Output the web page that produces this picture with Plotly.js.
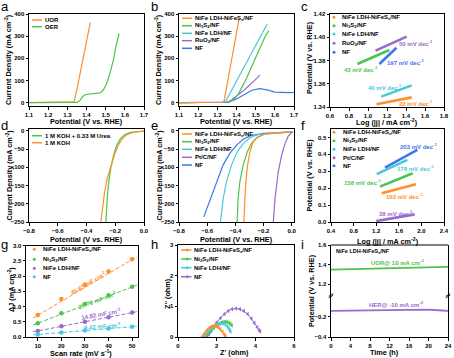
<!DOCTYPE html>
<html><head><meta charset="utf-8">
<script src="https://cdn.plot.ly/plotly-3.0.1.min.js"></script>
<style>html,body{margin:0;padding:0;background:#fff}#chart{width:454px;height:358px}</style>
</head><body><div id="chart"></div>
<script>
const ORANGE='#FF8F2A', GREEN='#4DC44D', CYAN='#47C9DD', PURPLE='#9A6BCC', BLUE='#3B78EA';
const FONT='Liberation Sans, Arial, sans-serif';

// ---------- data ----------
// (a) UOR vs OER
const aUorX=[1.10,1.20,1.30,1.325,1.335,1.35,1.37,1.39,1.41,1.42];
const aUorY=[0,0.3,1,2,4,60,145,230,318,362];
const aOerX=[1.10,1.20,1.30,1.35,1.365,1.38,1.395,1.42,1.45,1.47,1.487,1.505,1.522,1.54,1.557,1.57];
const aOerY=[0,0.2,0.5,1,8,28,37,40,41,44,56,86,131,192,267,312];
// (b) UOR LSV
const bCompX=[1.10,1.20,1.30,1.325,1.335,1.36,1.38,1.40,1.414];
const bCompY=[0,0.3,1,2,6,123,218,313,381];
const bNi3S2X=[1.10,1.20,1.30,1.35,1.37,1.39,1.41,1.43,1.45,1.47,1.49,1.51,1.53,1.55,1.569];
const bNi3S2Y=[0,0.3,1,2,6,18,40,70,105,145,185,228,268,300,325];
const bLdhX=[1.10,1.20,1.30,1.33,1.345,1.37,1.40,1.43,1.46,1.49,1.52,1.545,1.561];
const bLdhY=[0,0.3,1,2,8,48,97,145,193,242,290,330,356];
const bRuX=[1.10,1.20,1.30,1.35,1.37,1.39,1.41,1.43,1.45,1.47,1.49,1.51,1.522];
const bRuY=[0,0.3,1,3,10,22,36,50,65,80,96,113,125];
const bNfX=[1.10,1.20,1.30,1.36,1.40,1.44,1.48,1.52,1.56,1.60,1.64,1.67,1.70];
const bNfY=[0,0.2,0.5,2,17,38,56,63,58,48,45,45,46];
// (c) UOR Tafel
const cCompX=[1.09,1.46], cCompY=[1.3423,1.3483];
const cNi3S2X=[0.888,1.225], cNi3S2Y=[1.377,1.389];
const cLdhX=[1.14,1.46], cLdhY=[1.3489,1.3586];
const cRuX=[1.08,1.407], cRuY=[1.3885,1.4005];
const cNfX=[1.12,1.30], cNfY=[1.377,1.391];
// (d) HER electrolyte
const dUreaX=[-0.265,-0.262,-0.255,-0.245,-0.23,-0.21,-0.19,-0.165,-0.135,-0.10,-0.05,0];
const dUreaY=[-250,-220,-180,-140,-100,-65,-40,-22,-11,-5,-2,-0.5];
const dKohX=[-0.30,-0.29,-0.275,-0.255,-0.23,-0.205,-0.18,-0.155,-0.125,-0.09,-0.05,0];
const dKohY=[-250,-210,-170,-130,-95,-65,-40,-24,-12,-6,-3,-1];
// (e) HER LSV
const eCompX=[-0.339,-0.337,-0.332,-0.325,-0.313,-0.296,-0.273,-0.237,-0.19,-0.106,0];
const eCompY=[-250,-222,-186,-140,-94,-58,-30,-16,-9,-5.5,-3];
const eNi3S2X=[-0.387,-0.38,-0.368,-0.344,-0.315,-0.285,-0.249,-0.2,-0.106,0];
const eNi3S2Y=[-250,-186,-140,-94,-58,-35,-19,-10,-5.5,-3];
const eLdhX=[-0.505,-0.486,-0.463,-0.427,-0.387,-0.344,-0.296,-0.237,-0.13,0];
const eLdhY=[-250,-186,-140,-94,-58,-35,-19,-10,-5.5,-3];
const ePtX=[-0.13,-0.118,-0.095,-0.071,-0.047,-0.023,0,0.012];
const ePtY=[-250,-186,-113,-67,-35,-14,-5,-3];
const eNfX=[-0.624,-0.581,-0.534,-0.487,-0.439,-0.391,-0.344,-0.296,-0.201,-0.059,0];
const eNfY=[-236,-190,-140,-94,-62,-39,-23,-14,-7,-4.5,-3.5];
// (f) HER Tafel
const fCompX=[1.297,1.904], fCompY=[0.170,0.223];
const fNi3S2X=[1.267,1.846], fNi3S2Y=[0.209,0.288];
const fLdhX=[1.209,1.75], fLdhY=[0.283,0.367];
const fPtX=[1.2,1.88], fPtY=[0.005,0.045];
const fNfX=[1.356,1.927], fNfY=[0.322,0.427];
// (g) double-layer capacitance
const gScan=[10,20,30,40,50];
const gComp=[0.72,1.25,1.72,2.15,2.55];
const gNi3S2=[0.45,0.78,1.08,1.37,1.65];
const gLdh=[0.20,0.35,0.50,0.65,0.80];
const gNf=[0.08,0.15,0.21,0.28,0.34];
const gFitX=[8,52];
const gFitComp=[0.62,2.63], gFitNi3S2=[0.39,1.70], gFitLdh=[0.17,0.83], gFitNf=[0.07,0.35];
// (h) Nyquist
const hCompRe=[1.25,1.32,1.40,1.50,1.60,1.70,1.80,1.90,2.00,2.10,2.20,2.30,2.40,2.45];
const hCompIm=[0.00,0.07,0.14,0.22,0.28,0.33,0.36,0.37,0.35,0.31,0.25,0.17,0.08,0.03];
const hNi3S2Re=[1.45,1.55,1.65,1.75,1.85,1.95,2.05,2.15,2.25,2.35,2.45,2.55,2.65,2.72,2.78];
const hNi3S2Im=[0.00,0.08,0.16,0.23,0.29,0.35,0.40,0.44,0.47,0.49,0.50,0.49,0.46,0.42,0.38];
const hLdhRe=[1.35,1.45,1.55,1.65,1.75,1.85,1.95,2.05,2.15,2.25,2.35,2.45,2.55,2.62,2.68,2.72];
const hLdhIm=[0.00,0.08,0.16,0.23,0.29,0.34,0.38,0.41,0.44,0.45,0.44,0.41,0.35,0.29,0.23,0.17];
const hNfRe=[1.50,1.60,1.70,1.85,2.00,2.20,2.40,2.60,2.80,3.00,3.20,3.40,3.60,3.80,3.95,4.10,4.20,4.25];
const hNfIm=[0.00,0.10,0.20,0.34,0.47,0.62,0.75,0.85,0.91,0.93,0.91,0.85,0.75,0.60,0.46,0.32,0.22,0.18];
// (i) stability
const iT=[0,2,4,6,8,10,12,14,16,18,20,22,24];
const iUor=[1.349,1.351,1.353,1.355,1.357,1.359,1.361,1.363,1.366,1.369,1.372,1.374,1.376];
const iHer=[-0.146,-0.145,-0.143,-0.141,-0.140,-0.138,-0.137,-0.135,-0.133,-0.131,-0.133,-0.139,-0.146];

// ---------- helpers ----------
const W=454,H=358;
const X=p=>p/W, Y=p=>1-p/H;
const xn=n=>n===1?'x':'x'+n, yn=n=>n===1?'y':'y'+n;
const traces=[];
function ln(x,y,n,color,w,extra){traces.push(Object.assign({x:x,y:y,xaxis:xn(n),yaxis:yn(n),mode:'lines',line:{color:color,width:w},showlegend:false,hoverinfo:'skip'},extra||{}));}

const boxes={1:[29,144,14,106],2:[179,294,14,106],3:[330,444,14,107],4:[29,144,129,222],5:[179,294,129,222],6:[331,444,129,222],7:[26,138,245.5,337],8:[178,294,245,337],9:[331,448,296,337],10:[331,448,245,296]};
function base(){return {showline:true,linecolor:'#000',linewidth:1,mirror:true,ticks:'outside',ticklen:2.5,tickwidth:1,tickcolor:'#000',showgrid:false,zeroline:false,fixedrange:true,tickfont:{family:FONT,size:6,color:'#000',weight:'bold'}};}
const layout={width:W,height:H,margin:{l:0,r:0,t:0,b:0},paper_bgcolor:'#fff',plot_bgcolor:'rgba(0,0,0,0)',showlegend:false,annotations:[],shapes:[]};
function setX(n,spec){const b=boxes[n];layout[n===1?'xaxis':'xaxis'+n]=Object.assign(base(),{domain:[X(b[0]),X(b[1])],anchor:yn(n)},spec);}
function setY(n,spec,anchor){const b=boxes[n];layout[n===1?'yaxis':'yaxis'+n]=Object.assign(base(),{domain:[Y(b[3]),Y(b[2])],anchor:anchor||xn(n)},spec);}

function txt(x,y,t,opt){layout.annotations.push(Object.assign({xref:'paper',yref:'paper',x:X(x),y:Y(y),text:t,showarrow:false,xanchor:'left',yanchor:'middle',borderpad:0,font:{family:FONT,size:6,color:'#000',weight:'bold'}},opt||{}));}
function shp(s){layout.shapes.push(Object.assign({xref:'paper',yref:'paper'},s));}
function legend(items,kind,x0,x1,tx,rows){
  items.forEach((it,k)=>{
    const yy=rows[k];
    if(kind==='line'||kind==='lm') shp({type:'line',x0:X(x0),x1:X(x1),y0:Y(yy),y1:Y(yy),line:{color:it[1],width:1.5}});
    if(kind==='dot'){const c=x0;shp({type:'circle',x0:X(c-1.5),x1:X(c+1.5),y0:Y(yy+1.5),y1:Y(yy-1.5),fillcolor:it[1],line:{width:0}});}
    if(kind==='lm'){const c=(x0+x1)/2;shp({type:'path',path:`M ${X(c+1.8)},${Y(yy-1.8)} L ${X(c-1.8)},${Y(yy)} L ${X(c+1.8)},${Y(yy+1.8)} Z`,fillcolor:it[1],line:{width:0}});}
    txt(tx,yy,it[0]);
  });
}
function title(x,y,t,rot){txt(x,y,t,{xanchor:'center',yanchor:'middle',textangle:rot?-90:0,font:{family:FONT,size:7.3,color:'#000',weight:'bold'}});}
function plabel(x,y,t){txt(x,y,t,{xanchor:'left',yanchor:'top',font:{family:FONT,size:13,color:'#000'}});}

const CUR='Current Density (mA cm<sup>-2</sup>)', POT='Potential (V vs. RHE)', LOG='Log (|j| / mA cm<sup>-2</sup>)';
const COMP='NiFe LDH-NiFeS<sub>x</sub>/NF', NI3S2='Ni<sub>3</sub>S<sub>2</sub>/NF', LDH='NiFe LDH/NF', RU='RuO<sub>2</sub>/NF', PT='Pt/C/NF', NF='NF';

// ---------- panel a ----------
ln(aUorX,aUorY,1,ORANGE,1.2); ln(aOerX,aOerY,1,GREEN,1.2);
setX(1,{range:[1.1,1.7],dtick:0.1,tickformat:'.1f'}); setY(1,{range:[-15,400],tickvals:[0,100,200,300,400]});
legend([['UOR',ORANGE],['OER',GREEN]],'line',32,42,44,[20,26.7]);
// ---------- panel b ----------
ln(bNfX,bNfY,2,BLUE,1.2); ln(bRuX,bRuY,2,PURPLE,1.2); ln(bNi3S2X,bNi3S2Y,2,GREEN,1.2); ln(bLdhX,bLdhY,2,CYAN,1.2); ln(bCompX,bCompY,2,ORANGE,1.2);
setX(2,{range:[1.1,1.7],dtick:0.1,tickformat:'.1f'}); setY(2,{range:[-15,400],tickvals:[0,100,200,300,400]});
legend([[COMP,ORANGE],[NI3S2,GREEN],[LDH,CYAN],[RU,PURPLE],[NF,BLUE]],'line',182,192,194,[18.3,25.7,33.3,40.7,48.3]);
// ---------- panel c ----------
ln(cCompX,cCompY,3,ORANGE,2.6); ln(cNi3S2X,cNi3S2Y,3,GREEN,2.6); ln(cLdhX,cLdhY,3,CYAN,2.6); ln(cRuX,cRuY,3,PURPLE,2.6); ln(cNfX,cNfY,3,BLUE,2.6);
setX(3,{range:[0.6,1.8],dtick:0.2,tickformat:'.1f'}); setY(3,{range:[1.34,1.42],dtick:0.02,tickformat:'.2f'});
legend([[COMP,ORANGE],[NI3S2,GREEN],[LDH,CYAN],[RU,PURPLE],[NF,BLUE]],'dot',334,0,341,[17.3,25.7,34,43.3,52.3]);
const dec=' mV dec<sup>-1</sup>';
txt(398,43,'50'+dec,{font:{family:FONT,size:6,color:PURPLE,weight:'bold'}});
txt(386,62,'197'+dec,{font:{family:FONT,size:6,color:BLUE,weight:'bold'}});
txt(343,69,'43'+dec,{font:{family:FONT,size:6,color:GREEN,weight:'bold'}});
txt(367,87,'40'+dec,{font:{family:FONT,size:6,color:CYAN,weight:'bold'}});
txt(398,103,'22'+dec,{font:{family:FONT,size:6,color:ORANGE,weight:'bold'}});
// ---------- panel d ----------
ln(dUreaX,dUreaY,4,GREEN,1.2); ln(dKohX,dKohY,4,ORANGE,1.2);
setX(4,{range:[-0.8,0],dtick:0.2,tickformat:'.1f'}); setY(4,{range:[-250,5],tickvals:[-250,-200,-150,-100,-50,0]});
legend([['1 M KOH + 0.33 M Urea',GREEN],['1 M KOH',ORANGE]],'line',32,42,44,[135.7,142.7]);
// ---------- panel e ----------
ln(eNfX,eNfY,5,BLUE,1.2); ln(eLdhX,eLdhY,5,CYAN,1.2); ln(eNi3S2X,eNi3S2Y,5,GREEN,1.2); ln(eCompX,eCompY,5,ORANGE,1.2); ln(ePtX,ePtY,5,PURPLE,1.2);
setX(5,{range:[-0.8,0.017],dtick:0.2,tickformat:'.1f'}); setY(5,{range:[-250,5],tickvals:[-250,-200,-150,-100,-50,0]});
legend([[COMP,ORANGE],[NI3S2,GREEN],[LDH,CYAN],[PT,PURPLE],[NF,BLUE]],'line',182,192,194,[134,141.7,149.3,157.3,165]);
// ---------- panel f ----------
ln(fCompX,fCompY,6,ORANGE,2.6); ln(fNi3S2X,fNi3S2Y,6,GREEN,2.6); ln(fLdhX,fLdhY,6,CYAN,2.6); ln(fPtX,fPtY,6,PURPLE,2.6); ln(fNfX,fNfY,6,BLUE,2.6);
setX(6,{range:[0.4,2.4],dtick:0.4,tickformat:'.1f'}); setY(6,{range:[0,0.55],dtick:0.1,tickformat:'.1f'});
legend([[COMP,ORANGE],[NI3S2,GREEN],[LDH,CYAN],[PT,PURPLE],[NF,BLUE]],'dot',334,0,342,[132.3,140.7,149.3,157.7,165.7]);
txt(399,146,'203'+dec,{font:{family:FONT,size:6,color:BLUE,weight:'bold'}});
txt(396,168,'178'+dec,{font:{family:FONT,size:6,color:CYAN,weight:'bold'}});
txt(343,182,'158'+dec,{font:{family:FONT,size:6,color:GREEN,weight:'bold'}});
txt(385,196,'103'+dec,{font:{family:FONT,size:6,color:ORANGE,weight:'bold'}});
txt(378,212.5,'38'+dec,{font:{family:FONT,size:6,color:PURPLE,weight:'bold'}});
// ---------- panel g ----------
[[gFitComp,ORANGE],[gFitNi3S2,GREEN],[gFitLdh,PURPLE],[gFitNf,CYAN]].forEach(s=>ln(gFitX,s[0],7,s[1],1,{line:{color:s[1],width:1,dash:'4px,2px'}}));
[[gComp,ORANGE],[gNi3S2,GREEN],[gLdh,PURPLE],[gNf,CYAN]].forEach(s=>ln(gScan,s[0],7,s[1],1,{mode:'markers',marker:{color:s[1],size:4.5}}));
setX(7,{range:[5,52.5],tickvals:[10,20,30,40,50]}); setY(7,{range:[0,3],dtick:0.5,tickformat:'.1f'});
legend([[COMP,ORANGE],[NI3S2,GREEN],[LDH,PURPLE],[NF,CYAN]],'dot',34.3,0,41.5,[249.3,259.3,268.3,276.7]);
const mf=' mF cm<sup>-2</sup>';
txt(88,282.5,'45.63'+mf,{xanchor:'center',textangle:-30,font:{family:FONT,size:6,color:ORANGE,weight:'bold'}});
txt(97,299.5,'29.78'+mf,{xanchor:'center',textangle:-20,font:{family:FONT,size:6,color:GREEN,weight:'bold'}});
txt(100.5,314,'14.82'+mf,{xanchor:'center',textangle:-10,font:{family:FONT,size:6,color:PURPLE,weight:'bold'}});
txt(102.5,325.5,'6.42'+mf,{xanchor:'center',textangle:-4,font:{family:FONT,size:6,color:CYAN,weight:'bold'}});
// ---------- panel h ----------
const hm=c=>({mode:'lines+markers',marker:{symbol:'triangle-left',size:4,color:c},line:{color:c,width:1}});
ln(hNfRe,hNfIm,8,PURPLE,1,hm(PURPLE)); ln(hNi3S2Re,hNi3S2Im,8,GREEN,1,hm(GREEN)); ln(hLdhRe,hLdhIm,8,CYAN,1,hm(CYAN)); ln(hCompRe,hCompIm,8,ORANGE,1,hm(ORANGE));
setX(8,{range:[0,6],dtick:2}); setY(8,{range:[0,3],dtick:1});
legend([[COMP,ORANGE],[NI3S2,GREEN],[LDH,CYAN],[NF,PURPLE]],'lm',181,191.5,193,[250,259,267.7,276.7]);
// ---------- panel i ----------
ln(iT,iHer,9,PURPLE,1.8);
traces.push({x:iT,y:iUor,xaxis:'x9',yaxis:'y10',mode:'lines',line:{color:GREEN,width:1.8},showlegend:false,hoverinfo:'skip'});
setX(9,{range:[0,24],dtick:4,mirror:false});
setY(9,{range:[-0.4,0],tickvals:[-0.4,-0.2],tickformat:'.1f'},'x9');
setY(10,{range:[1.08,1.6],tickvals:[1.2,1.4,1.6],tickformat:'.1f'},'x9');
shp({type:'line',x0:X(331),x1:X(448),y0:Y(245),y1:Y(245),line:{color:'#000',width:1}});
[331,448].forEach(bx=>{
  shp({type:'line',x0:X(bx-2.2),x1:X(bx+2.2),y0:Y(297.8),y1:Y(295.2),line:{color:'#000',width:0.9}});
  shp({type:'line',x0:X(bx-2.2),x1:X(bx+2.2),y0:Y(296.3),y1:Y(293.7),line:{color:'#000',width:0.9}});
});
txt(335,251,COMP,{font:{family:FONT,size:5.5,color:'#000',weight:'bold'}});
txt(370,262,'UOR@ 10 mA cm<sup>-2</sup>',{font:{family:FONT,size:6,color:GREEN,weight:'bold'}});
txt(368,304,'HER@ -10 mA cm<sup>-2</sup>',{font:{family:FONT,size:6,color:PURPLE,weight:'bold'}});

// ---------- titles ----------
title(8,60,CUR,true); title(158,60,CUR,true); title(309,58,POT,true);
title(8,175.5,CUR,true); title(158,175.5,CUR,true); title(309,175.5,POT,true);
title(11,290,'ΔJ (mA cm<sup>-2</sup>)',true); title(167,294,"Z'' (ohm)",true); title(311,291,POT,true);
title(86.5,121,POT); title(236.5,121,POT); title(387,122.3,LOG);
title(86.5,239.3,POT); title(236.5,239.3,POT); title(387.5,240.5,LOG);
title(81,353.3,'Scan rate (mV s<sup>-1</sup>)'); title(234.5,352,"Z' (ohm)"); title(384,352.5,'Time (h)');
plabel(0,-2,'a'); plabel(150,-2,'b'); plabel(300,-2,'c');
plabel(0,117,'d'); plabel(150,117,'e'); plabel(300,117,'f');
plabel(0,236,'g'); plabel(150,236,'h'); plabel(300,236,'i');

Plotly.newPlot('chart',traces,layout,{staticPlot:true,displayModeBar:false});
</script></body></html>
